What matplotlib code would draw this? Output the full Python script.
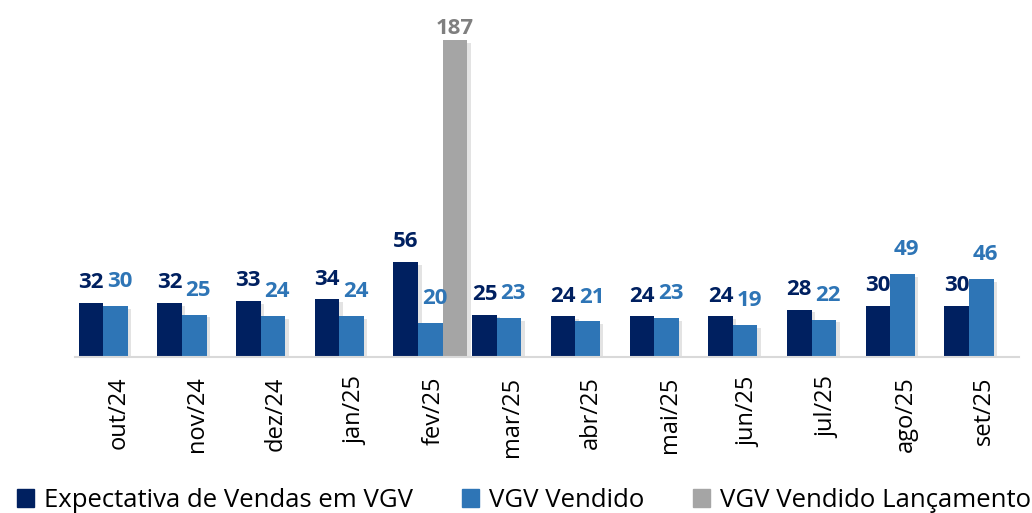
import numpy as np
import matplotlib.pyplot as plt
import matplotlib.patheffects as pe
from matplotlib.patches import Patch

plt.rcParams['font.family'] = ['Open Sans', 'DejaVu Sans']

meses = ['out/24', 'nov/24', 'dez/24', 'jan/25', 'fev/25', 'mar/25',
         'abr/25', 'mai/25', 'jun/25', 'jul/25', 'ago/25', 'set/25']
expectativa = [32, 32, 33, 34, 56, 25, 24, 24, 24, 28, 30, 30]
vendido = [30, 25, 24, 24, 20, 23, 21, 23, 19, 22, 49, 46]
lancamento = [None, None, None, None, 187, None, None, None, None, None, None, None]

legendas = ['Expectativa de Vendas em VGV', 'VGV Vendido', 'VGV Vendido Lançamento']
cor_escura = '#002060'
cor_azul = '#2E75B6'
cor_cinza = '#A5A5A5'

fig = plt.figure(figsize=(10.32, 5.13), dpi=100)
ax = fig.add_axes([75 / 1032, 1 - 357 / 513, (1019 - 75) / 1032, 339 / 513])

x = np.arange(len(meses))
w = 0.312
sombra = [pe.SimplePatchShadow(offset=(2.5, -2), alpha=0.15, shadow_rgbFace='#444444'), pe.Normal()]

b1 = ax.bar(x - w, expectativa, w, color=cor_escura, path_effects=sombra, zorder=2)
b2 = ax.bar(x, vendido, w, color=cor_azul, path_effects=sombra, zorder=2)
idx = [i for i, v in enumerate(lancamento) if v is not None]
b3 = ax.bar(x[idx] + w, [lancamento[i] for i in idx], w, color=cor_cinza,
            path_effects=sombra, zorder=2)

fonte_rot = dict(fontsize=16, fontweight='bold', ha='center', va='bottom')
for rect, v in zip(b1, expectativa):
    ax.annotate('{}'.format(v), xy=(rect.get_x() + rect.get_width() / 2, v),
                xytext=(0, 7), textcoords='offset points', color=cor_escura, **fonte_rot)
for rect, v in zip(b2, vendido):
    ax.annotate('{}'.format(v), xy=(rect.get_x() + rect.get_width() / 2, v),
                xytext=(3, 10), textcoords='offset points', color=cor_azul, **fonte_rot)
for rect, i in zip(b3, idx):
    ax.annotate('{}'.format(lancamento[i]), xy=(rect.get_x() + rect.get_width() / 2, lancamento[i]),
                xytext=(0, 1), textcoords='offset points', color='#7F7F7F', **fonte_rot)

ax.set_xlim(-0.515, 11.48)
ax.set_ylim(0, 200)
ax.set_yticks([])
ax.set_xticks(x + 0.04)
ax.set_xticklabels(meses, rotation=90, fontsize=17, va='top')
ax.tick_params(axis='x', length=0, pad=14)
for s in ['top', 'right', 'left']:
    ax.spines[s].set_visible(False)
ax.spines['bottom'].set_color('#D9D9D9')
ax.spines['bottom'].set_linewidth(1.5)

handles = [Patch(color=cor_escura), Patch(color=cor_azul), Patch(color=cor_cinza)]
fig.legend(handles, legendas, loc='lower center', bbox_to_anchor=(0.508, -0.045), ncol=3,
           frameon=False, fontsize=18.5, handlelength=0.65, handleheight=0.65,
           handletextpad=0.4, columnspacing=1.9)

plt.savefig('out.png', dpi=100)
